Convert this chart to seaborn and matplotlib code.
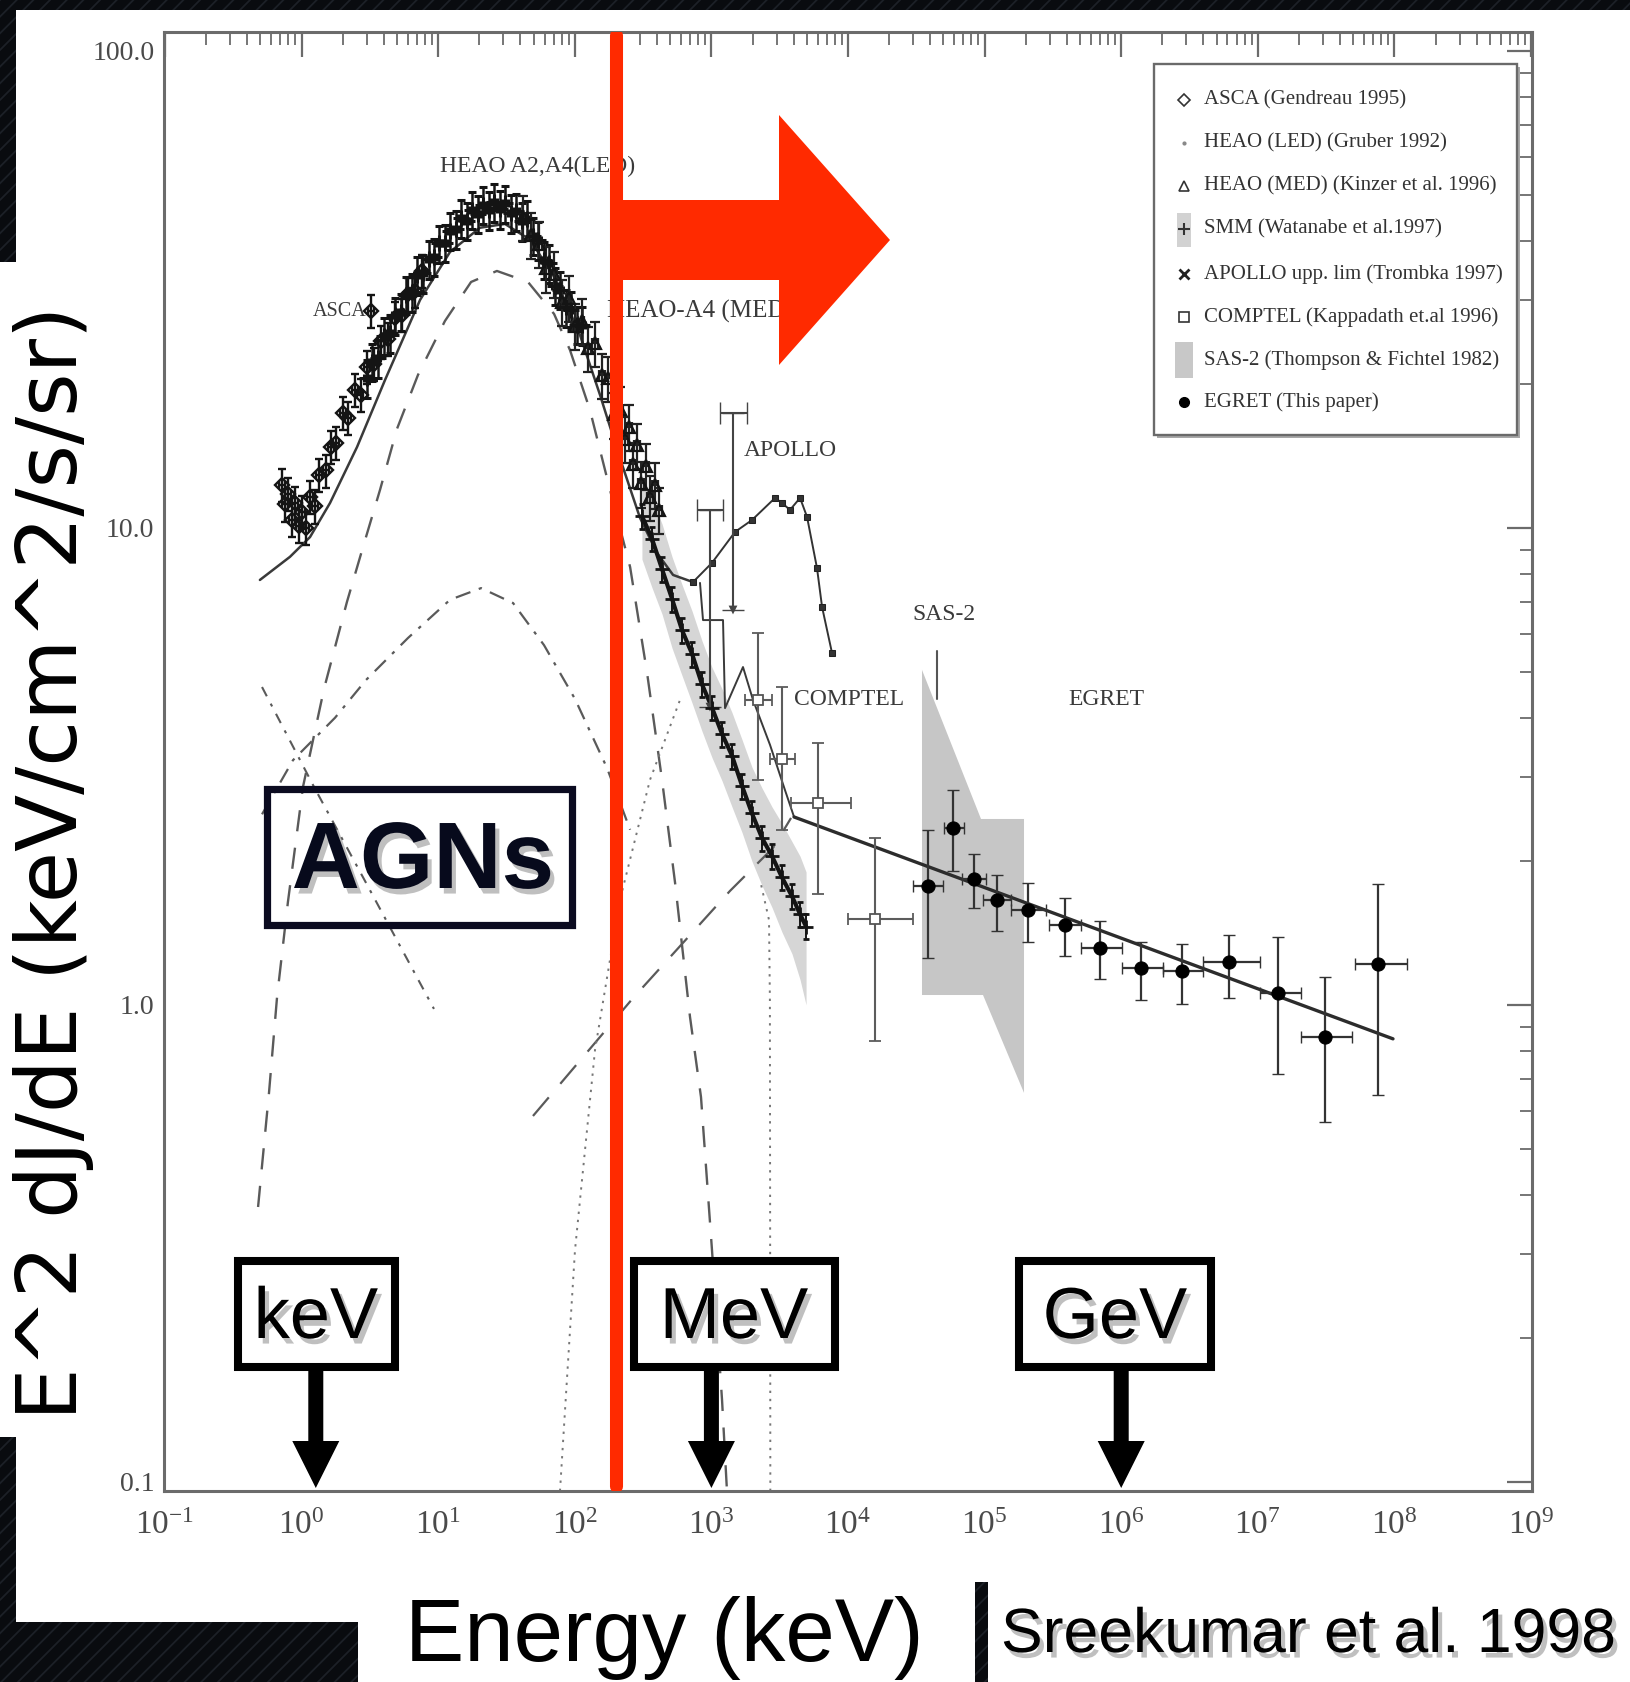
import numpy as np
import matplotlib
matplotlib.use("Agg")
import matplotlib.pyplot as plt
import matplotlib.patheffects as pe
from matplotlib.patches import Rectangle, Polygon
from matplotlib.lines import Line2D
from matplotlib.ticker import LogLocator, FixedLocator, FixedFormatter, NullFormatter
import seaborn as sns

# ---------------------------------------------------------------------------
# Extragalactic diffuse background, E^2 dJ/dE [keV/cm^2/s/sr] vs energy [keV]
# ---------------------------------------------------------------------------
asca_e = [0.72, 0.76, 0.80, 0.85, 0.90, 0.95, 1.00, 1.07, 1.15, 1.25, 1.35, 1.50, 1.65, 1.80,
          2.00, 2.20, 2.45, 2.70, 3.00, 3.20, 3.40, 3.80, 4.30, 4.80, 5.40, 6.00, 6.80, 7.60]
asca_f = [12.3, 11.2, 11.8, 10.4, 11.3, 10.1, 10.8, 10.0, 11.6, 11.1, 12.9, 13.2, 14.8, 15.1,
          17.4, 17.0, 19.5, 19.0, 21.8, 28.5, 22.1, 24.6, 24.9, 27.6, 28.0, 30.9, 31.4, 34.6]

led_e = [3.0, 3.3, 3.6, 4.0, 4.4, 4.8, 5.3, 5.8, 6.4, 7.0, 7.7, 8.5, 9.3, 10.2, 11.2, 12.3,
         13.5, 14.8, 16.2, 17.8, 19.5, 21.4, 23.5, 25.8, 28.3, 31.0, 34.0, 37.3, 40.9, 44.9,
         49.2, 54.0, 59.2, 65.0, 71.3, 78.2, 85.8, 94.1, 103.0, 113.0]
led_f = [20.6, 22.3, 22.7, 25.3, 25.6, 27.9, 28.4, 30.8, 31.2, 33.9, 34.2, 36.6, 37.0, 39.5,
         39.6, 42.0, 42.3, 44.6, 44.1, 46.5, 45.6, 47.6, 46.4, 48.2, 46.6, 47.9, 45.7, 46.1,
         44.0, 44.4, 41.0, 40.1, 36.5, 35.9, 32.2, 31.6, 29.0, 28.6, 26.7, 26.6]

med_e = [42, 48, 55, 62, 70, 80, 90, 100, 112, 125, 140, 158, 175, 195, 215, 232, 248, 265,
         285, 305, 330, 355, 385, 415]
med_f = [44.8, 41.2, 39.4, 35.0, 34.1, 29.8, 30.4, 26.5, 27.2, 23.8, 24.4, 20.9, 20.6, 17.3,
         17.8, 15.4, 16.3, 13.6, 14.9, 12.4, 13.5, 11.6, 12.3, 10.9]

smm_e = [310, 367, 435, 515, 610, 721, 853, 1010, 1196, 1416, 1675, 1982, 2345, 2780, 3289,
         3890, 4456, 4932]
smm_f = [10.6, 9.5, 8.2, 7.1, 6.1, 5.45, 4.7, 4.2, 3.7, 3.33, 2.88, 2.52, 2.24, 2.05, 1.85,
         1.69, 1.55, 1.46]
smm_lo = [8.6, 7.5, 6.6, 5.6, 4.9, 4.3, 3.75, 3.3, 2.95, 2.6, 2.3, 2.0, 1.78, 1.6, 1.42,
          1.28, 1.13, 1.0]
smm_hi = [13.0, 11.5, 10.2, 8.7, 7.6, 6.7, 5.8, 5.1, 4.6, 4.1, 3.6, 3.15, 2.85, 2.6, 2.4,
          2.2, 2.05, 1.9]

apollo_e = [733, 1010, 1489, 1982, 2924, 3289, 3761, 4456, 5012, 5929, 6457, 7636]
apollo_f = [7.70, 8.45, 9.81, 10.39, 11.56, 11.28, 10.91, 11.56, 10.55, 8.24, 6.83, 5.47]
apollo_ul_e = [1439, 976]
apollo_ul_elo = [1156, 785]
apollo_ul_ehi = [1822, 1216]
apollo_ul_f = [17.4, 10.9]
apollo_ul_flo = [6.73, 4.21]

comptel_e = [2193, 3289, 6026, 15770]
comptel_elo = [1762, 2685, 3828, 10000]
comptel_ehi = [2777, 4093, 10520, 29920]
comptel_f = [4.36, 3.28, 2.65, 1.514]
comptel_flo = [2.963, 2.33, 1.709, 0.840]
comptel_fhi = [6.02, 4.64, 3.54, 2.24]

sas2_e = [34800, 94100, 194300, 194300, 97340, 34800]
sas2_f = [5.04, 2.454, 2.454, 0.654, 1.049, 1.049]

egret_e = [38530, 58700, 83600, 123300, 207800, 387800, 699400, 1.396e6, 2.787e6, 6.155e6,
           1.406e7, 3.103e7, 7.584e7]
egret_elo = [29910, 50450, 68330, 97340, 156100, 296100, 507700, 1.014e6, 2.023e6, 3.970e6,
             1.038e7, 2.072e7, 5.148e7]
egret_ehi = [49600, 70660, 102400, 156100, 281500, 507700, 1.014e6, 2.023e6, 3.970e6,
             1.038e7, 2.072e7, 4.893e7, 1.237e8]
egret_f = [1.776, 2.350, 1.837, 1.66, 1.582, 1.471, 1.317, 1.196, 1.178, 1.230, 1.060, 0.857,
           1.219]
egret_flo = [1.254, 1.909, 1.597, 1.429, 1.355, 1.267, 1.134, 1.024, 1.005, 1.034, 0.717,
             0.568, 0.648]
egret_fhi = [2.33, 2.82, 2.073, 1.873, 1.803, 1.676, 1.500, 1.355, 1.342, 1.402, 1.389, 1.145,
             1.794]
egret_fit_e = [4024, 9.765e7]
egret_fit_f = [2.478, 0.849]

# model components
total_e = [0.495, 0.822, 1.152, 1.614, 2.545, 4.08, 7.36, 12.2, 20.2, 30.8, 47.0, 71.6, 109,
           153, 214, 300, 400, 524, 733]
total_f = [7.78, 8.70, 9.57, 11.28, 14.78, 20.43, 30.06, 37.9, 42.6, 43.4, 40.2, 33.4, 25.4,
           19.0, 14.0, 10.5, 8.86, 7.97, 7.70]
step_e = [825, 868, 1216, 1258, 1703, 2016, 2685, 3458, 4024]
step_f = [7.67, 6.41, 6.41, 4.19, 5.11, 4.36, 3.51, 2.82, 2.48]
sey1_e = [0.480, 0.577, 0.661, 0.794, 1.023, 1.459, 2.148, 2.815, 3.75, 4.99, 7.11, 11.2, 17.4,
          26.9, 45.4, 70.5, 92.2, 129, 181, 254, 338, 435, 542, 697, 839, 1010, 1196, 1300]
sey1_f = [0.377, 0.654, 1.039, 1.644, 2.864, 4.6, 7.0, 9.12, 12.02, 16.13, 20.93, 27.16, 32.79,
          34.58, 32.79, 28.1, 23.6, 17.68, 12.02, 8.28, 4.97, 2.963, 1.803, 0.944, 0.641,
          0.306, 0.1486, 0.0957]
sey2_e = [0.513, 0.865, 1.756, 2.961, 6.01, 12.2, 20.6, 35.3, 59.5, 100.3, 172, 254]
sey2_f = [2.51, 3.26, 4.00, 4.80, 5.88, 7.07, 7.48, 6.96, 5.68, 4.38, 3.14, 2.33]
soft_e = [0.513, 1.233, 2.961, 9.31]
soft_f = [4.64, 2.864, 1.803, 0.981]
blazar_e = [49.4, 267, 1368, 2825, 3828]
blazar_f = [0.585, 1.034, 1.734, 2.134, 2.466]
mev_a_e = [77.9, 100.3, 140.6, 214, 355, 589]
mev_a_f = [0.0957, 0.306, 0.805, 1.66, 2.963, 4.36]
mev_b_e = [2700, 2690, 2680, 2640, 2270]
mev_b_f = [0.0957, 0.390, 1.024, 1.507, 1.828]

RED_LINE_E = 200.0           # keV boundary line
MARK_E = [1.27, 1.0e3, 1.0e6]
MARK_LABELS = ["keV", "MeV", "GeV"]

legend_labels = ["ASCA (Gendreau 1995)", "HEAO (LED) (Gruber 1992)",
                 "HEAO (MED) (Kinzer et al. 1996)", "SMM (Watanabe et al.1997)",
                 "APOLLO upp. lim (Trombka 1997)", "COMPTEL (Kappadath et.al 1996)",
                 "SAS-2 (Thompson & Fichtel 1982)", "EGRET (This paper)"]

# ---------------------------------------------------------------------------
sns.set_theme(style="white")
plt.rcParams["font.family"] = ["Liberation Serif", "DejaVu Serif"]
plt.rcParams["mathtext.fontset"] = "custom"
plt.rcParams["mathtext.rm"] = "Liberation Serif"
plt.rcParams["hatch.linewidth"] = 1.3

W, H = 1631, 1682
DARK = "#090b0f"
SANS = ["Liberation Sans", "DejaVu Sans"]
fig = plt.figure(figsize=(W / 100, H / 100), dpi=100)
fig.patch.set_facecolor(DARK)


def fpt(x, y):
    return (x / W, 1 - y / H)


def frect(x0, y0, x1, y1, **kw):
    r = Rectangle((x0 / W, 1 - y1 / H), (x1 - x0) / W, (y1 - y0) / H,
                  transform=fig.transFigure, **kw)
    fig.add_artist(r)
    return r


# slide backdrop and white panels
frect(0, 0, W, H, facecolor=DARK, edgecolor="#1c2027", hatch="//", lw=0, zorder=-10)
for x0, y0, x1, y1 in [(16, 10, W, 1622), (0, 262, 16, 1437), (358, 1560, 975, H),
                       (988, 1575, W, H)]:
    frect(x0, y0, x1, y1, facecolor="white", edgecolor="none", lw=0, zorder=-9)
frect(975, 1582, 988, H, facecolor=DARK, edgecolor="#1c2027", hatch="//", lw=0, zorder=-8)

ax = fig.add_axes([164 / W, 1 - 1491 / H, 1368 / W, 1459 / H])
ax.set_xscale("log")
ax.set_yscale("log")
ax.set_facecolor("white")

GRAY = "#5a5a5a"
INK = "#141414"

# shaded regions
ax.fill_between(smm_e, smm_lo, smm_hi, color="#d6d6d6", lw=0, zorder=1)
ax.fill(sas2_e, sas2_f, color="#c6c6c6", lw=0, zorder=1)

# model curves
sns.lineplot(x=total_e, y=total_f, ax=ax, color="#3a3a3a", lw=1.8, estimator=None, sort=False, zorder=2)
sns.lineplot(x=step_e, y=step_f, ax=ax, color="#3a3a3a", lw=1.4, estimator=None, sort=False, zorder=2)
sns.lineplot(x=sey1_e, y=sey1_f, ax=ax, color=GRAY, lw=1.7, estimator=None, sort=False,
             linestyle=(0, (9, 7)), zorder=2)
sns.lineplot(x=sey2_e, y=sey2_f, ax=ax, color=GRAY, lw=1.6, estimator=None, sort=False,
             linestyle=(0, (7, 4, 1.5, 4)), zorder=2)
sns.lineplot(x=soft_e, y=soft_f, ax=ax, color=GRAY, lw=1.5, estimator=None, sort=False,
             linestyle=(0, (5, 4, 1.5, 4)), zorder=2)
sns.lineplot(x=blazar_e, y=blazar_f, ax=ax, color=GRAY, lw=1.6, estimator=None, sort=False,
             linestyle=(0, (11, 8)), zorder=2)
sns.lineplot(x=mev_a_e, y=mev_a_f, ax=ax, color="#777777", lw=1.4, estimator=None, sort=False,
             linestyle=(0, (1.2, 3)), zorder=2)
sns.lineplot(x=mev_b_e, y=mev_b_f, ax=ax, color="#777777", lw=1.4, estimator=None, sort=False,
             linestyle=(0, (1.2, 3)), zorder=2)
sns.lineplot(x=egret_fit_e, y=egret_fit_f, ax=ax, color="#2c2c2c", lw=2.4, estimator=None,
             sort=False, zorder=3)

# low-energy data band
ERR_ASCA, ERR_LED, ERR_MED, ERR_SMM = 0.08, 0.09, 0.11, 0.06
ax.errorbar(asca_e, asca_f, yerr=np.asarray(asca_f) * ERR_ASCA, xerr=np.asarray(asca_e) * 0.05,
            fmt="D", mfc="none", mec=INK, ms=7, mew=1.7, ecolor=INK, elinewidth=1.7,
            capsize=3, zorder=4)
ax.errorbar(led_e, led_f, yerr=np.asarray(led_f) * ERR_LED, xerr=np.asarray(led_e) * 0.05,
            fmt="+", color=INK, ms=12, mew=2.2, elinewidth=1.8, capsize=3, zorder=4)
ax.errorbar(med_e, med_f, yerr=np.asarray(med_f) * ERR_MED, xerr=np.asarray(med_e) * 0.05,
            fmt="^", mfc="none", mec=INK, ms=8, mew=1.6, ecolor="#222222", elinewidth=1.6,
            capsize=3.5, zorder=4)
ax.errorbar(smm_e, smm_f, yerr=np.asarray(smm_f) * ERR_SMM, fmt="+", color=INK, ms=10, mew=2.0,
            elinewidth=1.4, capsize=2.5, zorder=4)
sns.lineplot(x=smm_e, y=smm_f, ax=ax, color=INK, lw=3.0, estimator=None, sort=False, zorder=4)

# APOLLO
sns.lineplot(x=apollo_e, y=apollo_f, ax=ax, color="#333333", lw=1.4, marker="s", markersize=5,
             markeredgecolor="#222222", estimator=None, sort=False, zorder=4)
ul_f = np.asarray(apollo_ul_f)
ax.errorbar(apollo_ul_e, apollo_ul_f,
            xerr=[np.asarray(apollo_ul_e) - apollo_ul_elo, np.asarray(apollo_ul_ehi) - apollo_ul_e],
            yerr=[ul_f - apollo_ul_flo, ul_f * 0], fmt="none", ecolor="#444444",
            elinewidth=1.5, capsize=8, zorder=4)
sns.scatterplot(x=apollo_ul_e, y=apollo_ul_flo, ax=ax, marker="v", s=40, color="#444444",
                edgecolor="none", zorder=4)

# COMPTEL
cf = np.asarray(comptel_f)
ce = np.asarray(comptel_e)
ax.errorbar(comptel_e, comptel_f, yerr=[cf - comptel_flo, np.asarray(comptel_fhi) - cf],
            xerr=[ce - comptel_elo, np.asarray(comptel_ehi) - ce], fmt="s", mfc="white",
            mec="#555555", ms=7, mew=1.3, ecolor="#5c5c5c", elinewidth=1.5, capsize=4, zorder=4)

# EGRET
ef = np.asarray(egret_f)
ee = np.asarray(egret_e)
ax.errorbar(egret_e, egret_f, yerr=[ef - egret_flo, np.asarray(egret_fhi) - ef],
            xerr=[ee - egret_elo, np.asarray(egret_ehi) - ee], fmt="none", ecolor="#333333",
            elinewidth=1.6, capsize=4, zorder=5)
sns.scatterplot(x=egret_e, y=egret_f, ax=ax, marker="o", s=90, color="black",
                edgecolor="black", zorder=6)
ax.plot([44830, 44830], [4.38, 5.52], color="#555555", lw=1.5, zorder=4)

# axes, ticks
ax.set_xlim(0.0983, 1.017e9)
ax.set_ylim(0.0957, 109.6)
ax.xaxis.set_major_locator(LogLocator(base=10, numticks=20))
ax.xaxis.set_minor_locator(LogLocator(base=10, subs=np.arange(2, 10), numticks=200))
ax.xaxis.set_minor_formatter(NullFormatter())
ax.yaxis.set_major_locator(FixedLocator([0.1, 1, 10, 100]))
ax.yaxis.set_major_formatter(FixedFormatter(["0.1", "1.0", "10.0", "100.0"]))
ax.yaxis.set_minor_locator(LogLocator(base=10, subs=np.arange(2, 10), numticks=200))
ax.yaxis.set_minor_formatter(NullFormatter())
TICK = "#6b6b6b"
ax.tick_params(axis="both", which="major", direction="in", length=18, width=1.6, color=TICK,
               top=True, right=True, labelcolor="#4a4a4a")
ax.tick_params(axis="both", which="minor", direction="in", length=9, width=1.3, color=TICK,
               top=True, right=True)
ax.tick_params(axis="x", which="major", labelsize=24, pad=14)
ax.tick_params(axis="y", which="major", labelsize=20, pad=7)
for s in ax.spines.values():
    s.set_color(TICK)
    s.set_linewidth(2.2)
ax.set_xlabel("")
ax.set_ylabel("")

# in-plot labels
LBL = dict(fontsize=17, color="#3a3a3a", va="center", ha="left", zorder=3)
ax.text(10.3, 57.4, "HEAO A2,A4(LED)", **LBL)
ax.text(1.2, 28.5, "ASCA", **{**LBL, "fontsize": 14.5})
ax.text(172, 28.5, "HEAO-A4 (MED)", **{**LBL, "fontsize": 18})
ax.text(1733, 14.5, "APOLLO", **LBL)
ax.text(29420, 6.6, "SAS-2", **LBL)
ax.text(4024, 4.36, "COMPTEL", **LBL)
ax.text(407800, 4.36, "EGRET", **LBL)

# legend panel
frect(1157, 67, 1520, 438, facecolor="#a8a8a8", edgecolor="none", lw=0, zorder=6)
frect(1154, 64, 1517, 435, facecolor="white", edgecolor="#6a6a6a", lw=1.7, zorder=6.5)
leg_handles = [
    dict(marker="D", ls="none", mfc="none", mec="#333333", ms=6, mew=1.2),
    dict(marker=".", ls="none", color="#888888", ms=4),
    dict(marker="^", ls="none", mfc="none", mec="#333333", ms=7, mew=1.2),
    dict(marker="+", ls="none", color="#333333", ms=8, mew=1.5),
    dict(marker="x", ls="none", color="#222222", ms=7, mew=2),
    dict(marker="s", ls="none", mfc="none", mec="#333333", ms=7, mew=1.2),
    None,
    dict(marker="o", ls="none", color="black", ms=7),
]
leg_rows = [100, 143, 186, 229, 274, 317, 360, 402]
frect(1177, 213, 1191, 247, facecolor="#d2d2d2", edgecolor="none", lw=0, zorder=7)
frect(1175, 342, 1193, 378, facecolor="#c8c8c8", edgecolor="none", lw=0, zorder=7)
for row_y, style, label in zip(leg_rows, leg_handles, legend_labels):
    if style is not None:
        fig.add_artist(Line2D([1184 / W], [1 - row_y / H], transform=fig.transFigure,
                              zorder=8, **style))
    fig.text(1204 / W, 1 - row_y / H, label, fontsize=15, color="#333333", ha="left",
             va="center", zorder=8)

# boundary line and arrow
ax.axvline(RED_LINE_E, ymin=0.0034, ymax=0.998, color="#ff2a00", lw=9.4, zorder=8)


def data_px(e):
    return ax.transData.transform((e, 1.0))[0]


xr = data_px(RED_LINE_E)
red_arrow = [(xr, 200), (779, 200), (779, 115), (890, 240), (779, 365), (779, 280), (xr, 280)]
fig.add_artist(Polygon([fpt(x, y) for x, y in red_arrow], closed=True, transform=fig.transFigure,
                       facecolor="#ff2a00", edgecolor="none", zorder=12))

shadow = [pe.SimplePatchShadow(offset=(3, -4), shadow_rgbFace="0.45", alpha=0.45), pe.Normal()]

# energy-scale callouts
boxes = [(238, 395, 316), (634, 835, 734), (1019, 1211, 1115)]
for (x0, x1, cx), label, e in zip(boxes, MARK_LABELS, MARK_E):
    frect(x0, 1261, x1, 1367, facecolor="white", edgecolor="black", lw=5.8, zorder=11)
    fig.text(cx / W, 1 - 1338 / H, label, family=SANS, fontsize=52, color="black",
             ha="center", va="baseline", zorder=13, path_effects=shadow)
    x = data_px(e)
    pts = [(x - 7.5, 1371), (x + 7.5, 1371), (x + 7.5, 1441), (x + 23.5, 1441), (x, 1488),
           (x - 23.5, 1441), (x - 7.5, 1441)]
    fig.add_artist(Polygon([fpt(px, py) for px, py in pts], closed=True,
                           transform=fig.transFigure, facecolor="black", edgecolor="none",
                           zorder=12))

# AGN callout (open frame)
frect(266.5, 788.5, 571.5, 924.5, facecolor="none", edgecolor="#0b0b20", lw=5.2, zorder=11)
fig.text(423 / W, 1 - 888 / H, "AGNs", family=SANS, fontweight="bold", fontsize=68,
         color="#070a1c", ha="center", va="baseline", zorder=13, path_effects=shadow)

# axis titles and credit
fig.text(54 / W, 1 - 863 / H, "E^2 dJ/dE (keV/cm^2/s/sr)", family=["DejaVu Sans"],
         fontsize=60, color="black", rotation=90, ha="center", va="center", zorder=13)
fig.text(405 / W, 1 - 1661 / H, "Energy (keV)", family=SANS, fontsize=64, color="black",
         ha="left", va="baseline", zorder=13)
fig.text(1001 / W, 1 - 1652 / H, "Sreekumar et al. 1998", family=SANS, fontsize=45,
         color="black", ha="left", va="baseline", zorder=13, path_effects=shadow)

fig.savefig("out.png", dpi=100, facecolor=fig.get_facecolor())
